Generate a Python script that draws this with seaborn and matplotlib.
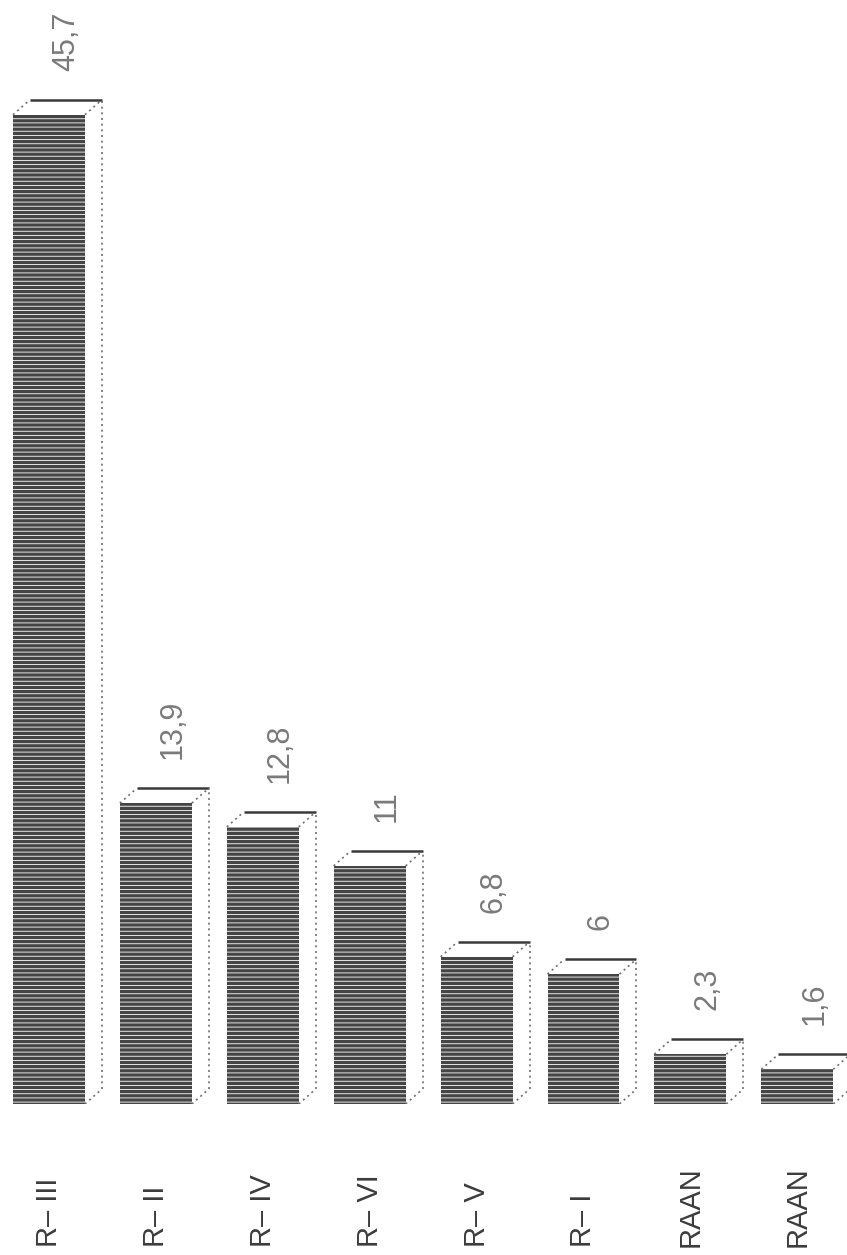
import matplotlib
matplotlib.use("Agg")
import matplotlib.pyplot as plt
from matplotlib.patches import Polygon
import seaborn as sns

# Share of each unit (values printed above the bars, decimal comma)
categories = ["R\u2013 III", "R\u2013 II", "R\u2013 IV", "R\u2013 VI", "R\u2013 V", "R\u2013 I", "RAAN", "RAAN"]
values = [45.7, 13.9, 12.8, 11.0, 6.8, 6.0, 2.3, 1.6]
value_labels = ["45,7", "13,9", "12,8", "11", "6,8", "6", "2,3", "1,6"]
positions = list(range(len(values)))

sns.set_theme(style="white")
plt.rcParams["font.family"] = ["Liberation Sans", "DejaVu Sans"]
plt.rcParams["hatch.linewidth"] = 0.6
plt.rcParams["hatch.color"] = "#7c7c7c"

W, H, DPI = 847, 1255, 100
fig = plt.figure(figsize=(W / DPI, H / DPI), dpi=DPI)
fig.patch.set_facecolor("white")
ax = fig.add_axes([0, 151 / H, 1, 1104 / H])

sns.barplot(x=positions, y=values, ax=ax, width=0.673, color="#454545",
            saturation=1, linewidth=0, hatch="----", zorder=2)

ax.set_xlim(-0.458, 7.465)
ax.set_ylim(0, 51)
for s in ax.spines.values():
    s.set_visible(False)
ax.set_yticks([])
ax.set_ylabel("")
ax.set_facecolor("white")

# Oblique depth of the pseudo-3D blocks, in pixels, converted to data units
depth_px_x, depth_px_y = 17, 15
px_per_x = ax.transData.transform((1, 0))[0] - ax.transData.transform((0, 0))[0]
px_per_y = ax.transData.transform((0, 1))[1] - ax.transData.transform((0, 0))[1]
dx = depth_px_x / px_per_x
dy = depth_px_y / px_per_y

dot_kw = dict(color="#6f6f6f", lw=1.2, ls=(0, (1.2, 2.2)), zorder=3)
for bar, lab in zip(ax.patches, value_labels):
    x0 = bar.get_x()
    x1 = x0 + bar.get_width()
    h = bar.get_height()
    # top and side faces
    ax.add_patch(Polygon([(x0, h), (x1, h), (x1 + dx, h + dy), (x0 + dx, h + dy)],
                         closed=True, facecolor="white", edgecolor="none", zorder=1))
    ax.add_patch(Polygon([(x1, 0), (x1 + dx, dy), (x1 + dx, h + dy), (x1, h)],
                         closed=True, facecolor="white", edgecolor="none", zorder=1))
    # back top edge drawn solid, the remaining edges dotted
    ax.plot([x0 + dx, x1 + dx], [h + dy, h + dy], color="#3a3a3a", lw=1.8,
            solid_capstyle="butt", zorder=3)
    ax.plot([x0, x0 + dx], [h, h + dy], **dot_kw)
    ax.plot([x1, x1 + dx], [h, h + dy], **dot_kw)
    ax.plot([x1 + dx, x1 + dx], [dy, h + dy], **dot_kw)
    ax.plot([x1, x1 + dx], [0, dy], **dot_kw)
    # value label above the block
    ax.text((x0 + x1) / 2 + dx, h + dy + 29 / px_per_y, lab, rotation=90,
            ha="center", va="bottom", fontsize=22, color="#7a7a7a")

ax.set_xticks(positions)
ax.set_xticklabels(categories, rotation=90, va="bottom", ha="center",
                   fontsize=21, color="#3c3c3c")
ax.tick_params(axis="x", length=0, pad=143 * 72 / DPI)
ax.set_xlabel("")

fig.savefig("out.png", dpi=DPI, facecolor="white")
